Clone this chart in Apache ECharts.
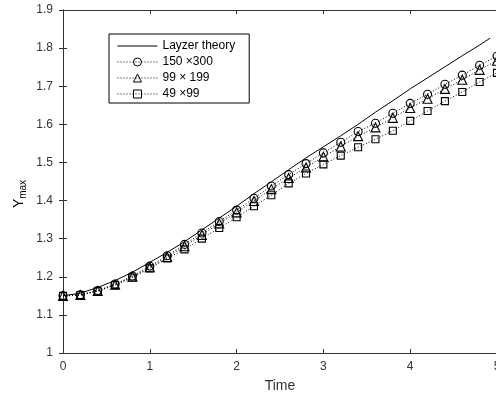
<!DOCTYPE html>
<html>
<head>
<meta charset="utf-8">
<script src="https://cdn.jsdelivr.net/npm/echarts@6/dist/echarts.min.js"></script>
<style>
  html, body { margin: 0; padding: 0; background: #fff; }
  #chart { width: 496px; height: 398px; }
</style>
</head>
<body>
<div id="chart"></div>
<script>
// time samples of the simulations
const timeSteps = [0, 0.2, 0.4, 0.6, 0.8, 1.0, 1.2, 1.4, 1.6, 1.8, 2.0, 2.2, 2.4,
  2.6, 2.8, 3.0, 3.2, 3.4, 3.6, 3.8, 4.0, 4.2, 4.4, 4.6, 4.8, 5.0]

// Layzer theory curve
const theoryTime = [0, 0.2, 0.4, 0.6, 0.8, 1.0, 1.2, 1.4, 1.6, 1.8, 2.0, 2.2, 2.4,
  2.6, 2.8, 3.0, 3.2, 3.4, 3.6, 3.8, 4.0, 4.2, 4.4, 4.6, 4.8, 4.92]
const theoryY = [1.150, 1.157, 1.172, 1.190, 1.212, 1.238, 1.264, 1.292, 1.323, 1.354,
  1.385, 1.418, 1.449, 1.481, 1.512, 1.541, 1.570, 1.600, 1.632, 1.662, 1.693, 1.722,
  1.751, 1.780, 1.808, 1.826]

// grid 150 x 300
const fineY = [1.150, 1.153, 1.164, 1.181, 1.202, 1.228, 1.255, 1.285, 1.315, 1.345,
  1.375, 1.406, 1.438, 1.468, 1.497, 1.525, 1.553, 1.581, 1.603, 1.629, 1.655, 1.679,
  1.705, 1.729, 1.755, 1.779]
// grid 99 x 199
const midY = [1.150, 1.152, 1.163, 1.179, 1.200, 1.225, 1.252, 1.280, 1.310, 1.340,
  1.369, 1.399, 1.430, 1.459, 1.487, 1.515, 1.542, 1.569, 1.592, 1.617, 1.643, 1.667,
  1.693, 1.717, 1.743, 1.767]
// grid 49 x 99
const coarseY = [1.150, 1.152, 1.162, 1.178, 1.198, 1.222, 1.248, 1.272, 1.300, 1.328,
  1.356, 1.385, 1.414, 1.445, 1.471, 1.495, 1.518, 1.540, 1.561, 1.583, 1.609, 1.635,
  1.661, 1.685, 1.711, 1.735]

const seriesNames = ['Layzer theory', '150 \u00d7300', '99 \u00d7 199', '49 \u00d799']
const xTicks = [0, 1, 2, 3, 4, 5]
const yTicks = [1, 1.1, 1.2, 1.3, 1.4, 1.5, 1.6, 1.7, 1.8, 1.9]

const font = 'Liberation Sans, Arial, Helvetica, sans-serif'
const axisColor = '#333'

const pairs = (xs, ys) => xs.map((x, i) => [x, ys[i]])

const chart = echarts.init(document.getElementById('chart'))

const baseX = {
  type: 'value',
  min: xTicks[0],
  max: xTicks[xTicks.length - 1],
  interval: 1,
  axisLine: { lineStyle: { color: axisColor, width: 1 } },
  axisTick: { inside: true, length: 4, lineStyle: { color: axisColor } },
  splitLine: { show: false }
}
const baseY = {
  type: 'value',
  min: yTicks[0],
  max: yTicks[yTicks.length - 1],
  interval: 0.1,
  axisLine: { lineStyle: { color: axisColor, width: 1 } },
  axisTick: { inside: true, length: 4, lineStyle: { color: axisColor } },
  splitLine: { show: false }
}

const markerSeries = (name, ys, symbol, size) => ({
  name: name,
  type: 'line',
  data: pairs(timeSteps, ys),
  symbol: symbol,
  symbolSize: size,
  showSymbol: true,
  lineStyle: { color: '#000', width: 1, type: [1, 2] },
  itemStyle: { color: 'transparent', borderColor: '#000', borderWidth: 1.1 },
  emphasis: { disabled: true },
  clip: false,
  z: 3
})

const option = {
  animation: false,
  backgroundColor: '#fff',
  textStyle: { fontFamily: font },
  grid: { left: 63, top: 10, width: 434, height: 343, outerBoundsMode: 'none', containLabel: false },
  legend: {
    orient: 'vertical',
    left: 109,
    top: 34,
    padding: [6, 14, 3, 8],
    borderColor: '#000',
    borderWidth: 1,
    itemWidth: 40,
    itemHeight: 10,
    itemGap: 4,
    itemStyle: { borderWidth: 1 },
    lineStyle: { width: 1 },
    textStyle: { fontFamily: font, fontSize: 12, color: '#000' },
    data: [
      { name: seriesNames[0], icon: 'path://M0,0 L40,0 L40,1 L0,1 Z', itemStyle: { color: '#000', borderWidth: 0 } },
      seriesNames[1], seriesNames[2], seriesNames[3]
    ]
  },
  xAxis: [
    Object.assign({}, baseX, {
      position: 'bottom',
      name: 'Time',
      nameLocation: 'middle',
      nameGap: 26,
      nameTextStyle: { fontFamily: font, fontSize: 14, color: axisColor },
      axisLabel: { margin: 8, fontFamily: font, fontSize: 12, color: axisColor }
    }),
    Object.assign({}, baseX, { position: 'top', axisLabel: { show: false } })
  ],
  yAxis: [
    Object.assign({}, baseY, {
      position: 'left',
      axisLabel: {
        margin: 10, fontFamily: font, fontSize: 12, color: axisColor,
        formatter: v => String(Math.round(v * 10) / 10)
      }
    }),
    Object.assign({}, baseY, { position: 'right', axisLabel: { show: false } })
  ],
  graphic: [{
    type: 'text',
    x: 20,
    y: 194,
    rotation: Math.PI / 2,
    style: {
      text: '{a|Y}{b|max}',
      align: 'center',
      verticalAlign: 'middle',
      rich: {
        a: { fontFamily: font, fontSize: 14, color: axisColor, lineHeight: 16, verticalAlign: 'top' },
        b: { fontFamily: font, fontSize: 10, color: axisColor, lineHeight: 10, verticalAlign: 'bottom' }
      }
    }
  }],
  series: [
    {
      name: seriesNames[0],
      type: 'line',
      data: pairs(theoryTime, theoryY),
      showSymbol: false,
      symbol: 'none',
      lineStyle: { color: '#000', width: 1 },
      itemStyle: { color: '#000' },
      emphasis: { disabled: true },
      z: 2
    },
    markerSeries(seriesNames[3], coarseY, 'rect', 7),
    markerSeries(seriesNames[2], midY, 'triangle', 9),
    markerSeries(seriesNames[1], fineY, 'circle', 8)
  ]
}

chart.setOption(option)
window.addEventListener('resize', () => chart.resize())
</script>
</body>
</html>
